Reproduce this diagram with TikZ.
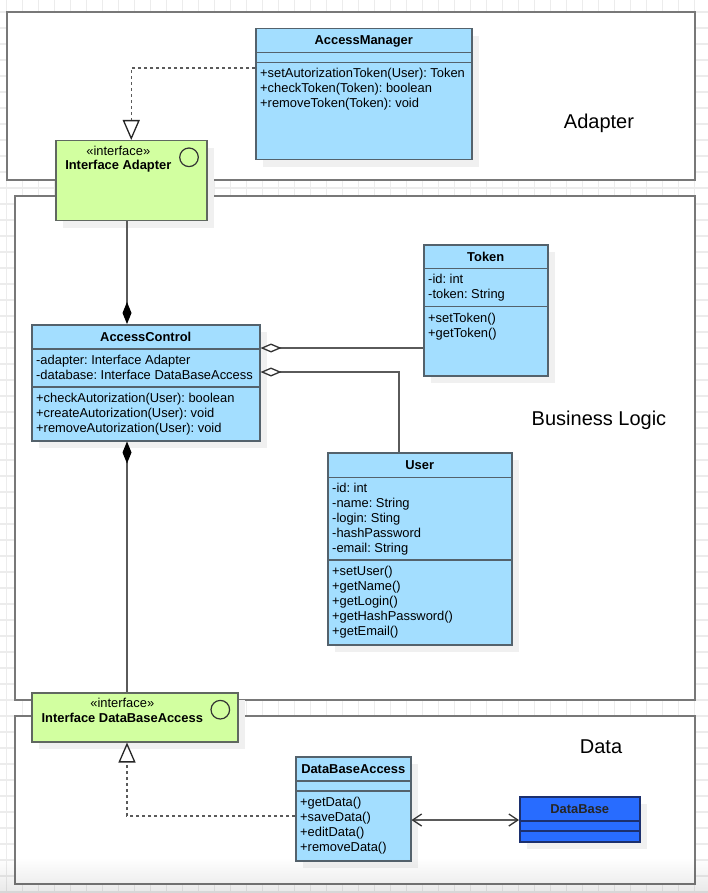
\documentclass[tikz,border=0pt]{standalone}
\usepackage{fontspec}
\setmainfont{Liberation Sans}
\frenchspacing
\usetikzlibrary{arrows.meta,shadows,fadings}

\definecolor{classfill}{RGB}{163,222,255}
\definecolor{classline}{RGB}{84,98,108}
\definecolor{ifacefill}{RGB}{210,255,160}
\definecolor{ifaceline}{RGB}{96,104,96}
\definecolor{dbfill}{RGB}{40,108,255}
\definecolor{dbline}{RGB}{28,48,110}
\definecolor{frameline}{RGB}{120,120,120}
\definecolor{gridrule}{RGB}{236,236,236}
\definecolor{shadowfill}{RGB}{240,240,240}
\definecolor{wire}{RGB}{90,90,90}

\newcommand\umlfont{\fontsize{12.9}{15}\selectfont}
\newcommand\zonefont{\fontsize{20}{24}\selectfont}

% one text line per member, 15 units apart
\newcommand\umlrows[4]{%
  \foreach \txt [count=\k] in {#4}{%
    \node[umlrow] (#1\k) at (#2,{#3+15*(\k-1)}) {\txt};}}

\tikzset{
  gridline/.style={draw=gridrule, line width=1.5pt},
  zone/.style={draw=frameline, line width=2pt, fill=white},
  zonelabel/.style={anchor=base, inner sep=0pt, font=\zonefont},
  umlbox/.style={rectangle, draw=classline, line width=1.5pt, fill=classfill,
    anchor=north west, inner sep=0pt,
    drop shadow={shadow xshift=7pt, shadow yshift=-7pt, fill=shadowfill, opacity=1}},
  ifacebox/.style={umlbox, draw=ifaceline, fill=ifacefill},
  dbbox/.style={umlbox, draw=dbline, fill=dbfill},
  divider/.style={draw=classline, line width=1.5pt},
  umlrow/.style={anchor=base west, inner sep=0pt, font=\umlfont},
  umltitle/.style={anchor=base, inner sep=0pt, font=\umlfont\bfseries},
  ifaceicon/.style={circle, draw=black!80, line width=1.2pt, minimum size=18.6pt, inner sep=0pt},
  wirebase/.style={draw=wire, line width=1.3pt},
  realize/.style={wirebase, dash pattern=on 3pt off 3pt,
    -{Triangle[open, length=20pt, width=17pt, color=black!85]}},
  compose/.style={wirebase, {Diamond[length=22pt, width=9pt, color=black]}-},
  aggregate/.style={wirebase, {Diamond[open, length=21pt, width=9pt, color=black!80]}-},
  assoc/.style={wirebase, {Straight Barb[length=9pt, width=12pt, color=black!80]}-{Straight Barb[length=9pt, width=12pt, color=black!80]}},
}

\begin{document}
\begin{tikzpicture}[x=1pt, y=-1pt]
\useasboundingbox (0,0) rectangle (708,893);
\fill[white] (0,0) rectangle (708,893);

% background grid
\foreach \gx in {6.7,22.7,...,708} \draw[gridline] (\gx,0) -- (\gx,893);
\foreach \gy in {12,28,...,893} \draw[gridline] (0,\gy) -- (708,\gy);

% layers
\draw[zone] (7,12) rectangle (695,180);
\draw[zone] (15,196) rectangle (695,700);
\draw[zone] (15,716) rectangle (695,884);
\node[zonelabel] (lbl-adapter) at (599,128.5) {Adapter};
\node[zonelabel] (lbl-logic) at (599,425) {Business Logic};
\node[zonelabel] (lbl-data) at (601,753) {Data};

% AccessManager
\node[umlbox, minimum width=216, minimum height=131] (am) at (255,28) {};
\draw[divider] (am.west |- 0,52.7) -- (am.east |- 0,52.7);
\draw[divider] (am.west |- 0,62.7) -- (am.east |- 0,62.7);
\node[umltitle] (am-t) at (am.north |- 0,45) {AccessManager};
\umlrows{am-m}{260}{78}{{+setAutorizationToken(User): Token},{+checkToken(Token): boolean},{+removeToken(Token): void}}

% Interface Adapter
\node[ifacebox, minimum width=151, minimum height=80] (ia) at (55,140) {};
\node[umlrow, anchor=base] (ia-s) at (118.3,155.5) {«interface»};
\node[umltitle] (ia-t) at (118.3,170) {Interface Adapter};
\node[ifaceicon] (ia-icon) at (189,157.3) {};

% Token
\node[umlbox, minimum width=124, minimum height=131] (tk) at (423,244) {};
\draw[divider] (tk.west |- 0,268.7) -- (tk.east |- 0,268.7);
\draw[divider] (tk.west |- 0,306.7) -- (tk.east |- 0,306.7);
\node[umltitle] (tk-t) at (tk.north |- 0,261) {Token};
\umlrows{tk-a}{428}{283.5}{{-id: int},{-token: String}}
\umlrows{tk-m}{428}{322}{{+setToken()},{+getToken()}}

% AccessControl
\node[umlbox, minimum width=228, minimum height=116] (ac) at (31,324) {};
\draw[divider] (ac.west |- 0,349) -- (ac.east |- 0,349);
\draw[divider] (ac.west |- 0,387) -- (ac.east |- 0,387);
\node[umltitle] (ac-t) at (ac.north |- 0,341) {AccessControl};
\umlrows{ac-a}{36}{364}{{-adapter: Interface Adapter},{-database: Interface DataBaseAccess}}
\umlrows{ac-m}{36}{402}{{+checkAutorization(User): boolean},{+createAutorization(User): void},{+removeAutorization(User): void}}

% User
\node[umlbox, minimum width=184, minimum height=192] (us) at (327,452) {};
\draw[divider] (us.west |- 0,477.3) -- (us.east |- 0,477.3);
\draw[divider] (us.west |- 0,560) -- (us.east |- 0,560);
\node[umltitle] (us-t) at (us.north |- 0,469) {User};
\umlrows{us-a}{332}{492.3}{{-id: int},{-name: String},{-login: Sting},{-hashPassword},{-email: String}}
\umlrows{us-m}{332}{575}{{+setUser()},{+getName()},{+getLogin()},{+getHashPassword()},{+getEmail()}}

% Interface DataBaseAccess
\node[ifacebox, minimum width=206, minimum height=49] (ida) at (31,692) {};
\node[umlrow, anchor=base] (ida-s) at (122.3,707.8) {«interface»};
\node[umltitle] (ida-t) at (122.3,722) {Interface DataBaseAccess};
\node[ifaceicon] (ida-icon) at (220.3,709.7) {};

% DataBaseAccess
\node[umlbox, minimum width=115, minimum height=104] (dba) at (295,756) {};
\draw[divider] (dba.west |- 0,781) -- (dba.east |- 0,781);
\draw[divider] (dba.west |- 0,791) -- (dba.east |- 0,791);
\node[umltitle] (dba-t) at (dba.north |- 0,773) {DataBaseAccess};
\umlrows{dba-m}{300}{806}{{+getData()},{+saveData()},{+editData()},{+removeData()}}

% DataBase
\node[dbbox, minimum width=120, minimum height=45] (db) at (519,796) {};
\draw[divider, draw=dbline] (db.west |- 0,821) -- (db.east |- 0,821);
\draw[divider, draw=dbline] (db.west |- 0,831) -- (db.east |- 0,831);
\node[umltitle, text=black!85] (db-t) at (db.north |- 0,813) {DataBase};

% relations
\draw[realize] (am.west |- 0,68) -| (ia.north);
\draw[compose] (ac.north -| 127,0) -- (ia.south -| 127,0);
\draw[compose] (ac.south -| 127,0) -- (ida.north -| 127,0);
\draw[aggregate] (ac.east |- 0,348) -- (tk.west |- 0,348);
\draw[aggregate] (ac.east |- 0,372) -| (us.north -| 399,0);
\draw[realize] (dba.west |- 0,816) -| (ida.south -| 127,0);
\draw[assoc] (dba.east |- 0,820) -- (db.west |- 0,820);

% soft fade along the lower edge
\fill[black, opacity=0.09, path fading=north] (0,858) rectangle (708,893);
\end{tikzpicture}
\end{document}
